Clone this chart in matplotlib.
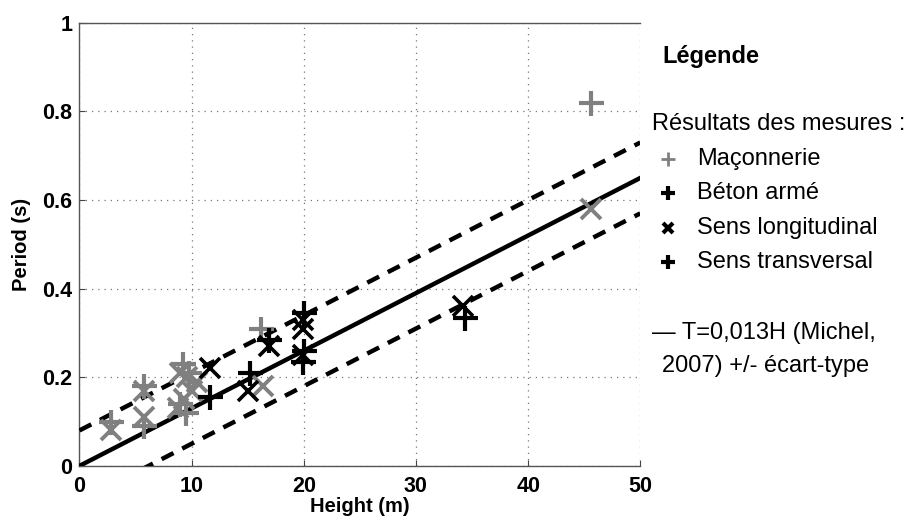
import matplotlib
matplotlib.use('Agg')
import matplotlib.pyplot as plt
import numpy as np
from matplotlib.lines import Line2D

plt.rcParams['font.family'] = ['Liberation Sans', 'DejaVu Sans']

# Maçonnerie (gris)
maco_long_h = [2.8, 5.8, 5.8, 9.0, 9.6, 9.3, 10.0, 8.8, 10.5, 16.4, 45.6]
maco_long_t = [0.08, 0.11, 0.17, 0.21, 0.20, 0.15, 0.17, 0.13, 0.19, 0.18, 0.58]
maco_trans_h = [2.8, 5.8, 5.8, 9.2, 9.8, 9.0, 9.5, 16.2, 45.6]
maco_trans_t = [0.10, 0.09, 0.18, 0.23, 0.21, 0.14, 0.12, 0.31, 0.82]

# Béton armé (noir)
beton_long_h = [11.6, 15.0, 16.9, 19.9, 19.9, 19.9, 34.2]
beton_long_t = [0.22, 0.17, 0.27, 0.33, 0.31, 0.25, 0.36]
beton_trans_h = [11.6, 15.2, 16.9, 20.0, 20.0, 19.9, 34.4]
beton_trans_t = [0.155, 0.21, 0.285, 0.345, 0.26, 0.235, 0.335]

# T = 0,013 H (Michel, 2007) +/- écart-type
coef = 0.013
ecart = 0.08
h_line = [0, 50]

x_ticks = [0, 10, 20, 30, 40, 50]
y_ticks = [0, 0.2, 0.4, 0.6, 0.8, 1]
y_ticklabels = ['0', '0.2', '0.4', '0.6', '0.8', '1']

gris = '#808080'

fig = plt.figure(figsize=(9.18, 5.2), dpi=100)
ax = fig.add_axes([0.0865, 0.104, 0.611, 0.852])

h = np.array(h_line, dtype=float)
ax.plot(h, coef * h, color='k', lw=3.2, zorder=3)
ax.plot(h, coef * h + ecart, color='k', lw=3.2, ls=(0, (3, 2.2)), zorder=3)
ax.plot(h, coef * h - ecart, color='k', lw=3.2, ls=(0, (3, 2.2)), zorder=3)

ax.plot(maco_long_h, maco_long_t, 'x', color=gris, ms=15, mew=2.8, zorder=4)
ax.plot(maco_trans_h, maco_trans_t, '+', color=gris, ms=18, mew=3.0, zorder=4)
ax.plot(beton_long_h, beton_long_t, 'x', color='k', ms=15, mew=2.6, zorder=5)
ax.plot(beton_trans_h, beton_trans_t, '+', color='k', ms=18, mew=3.0, zorder=5)

ax.set_xlim(0, 50)
ax.set_ylim(0, 1)
ax.set_xticks(x_ticks)
ax.set_yticks(y_ticks)
ax.set_yticklabels(y_ticklabels)
ax.tick_params(direction='in', length=4, labelsize=15.5, color='#444444')
ax.tick_params(axis='x', pad=7)
ax.tick_params(axis='y', pad=5)
for lab in ax.get_xticklabels() + ax.get_yticklabels():
    lab.set_fontweight('bold')
ax.grid(True, linestyle=(0, (1, 4)), color='#777777', linewidth=0.9)
ax.spines['right'].set_visible(False)
for s in ['left', 'bottom', 'top']:
    ax.spines[s].set_color('#555555')
    ax.spines[s].set_linewidth(1.0)

ax.set_xlabel('Height (m)', fontsize=14.5, fontweight='bold', labelpad=0)
ax.set_ylabel('Period (s)', fontsize=14.5, fontweight='bold', labelpad=8)

# Légende en texte à droite
fs = 17
fig.text(662 / 918, 1 - 57 / 520, 'Légende', fontsize=fs, fontweight='bold', va='center')
fig.text(652 / 918, 1 - 124 / 520, 'Résultats des mesures :', fontsize=fs, va='center')
items = [
    ('+', gris, 10, 2.0, 'Maçonnerie', 159),
    ('+', 'k', 10, 3.0, 'Béton armé', 193),
    ('x', 'k', 7.5, 3.0, 'Sens longitudinal', 228),
    ('+', 'k', 10, 3.0, 'Sens transversal', 262),
]
for mk, col, ms, mew, label, ypx in items:
    fig.add_artist(Line2D([668 / 918], [1 - ypx / 520], marker=mk, color=col,
                          ms=ms, mew=mew, ls='none', transform=fig.transFigure))
    fig.text(697 / 918, 1 - ypx / 520, label, fontsize=fs, va='center')
fig.text(652 / 918, 1 - 333 / 520, '— T=0,013H (Michel,', fontsize=fs, va='center')
fig.text(662 / 918, 1 - 366 / 520, '2007) +/- écart-type', fontsize=fs, va='center')

fig.savefig('out.png', dpi=100)
